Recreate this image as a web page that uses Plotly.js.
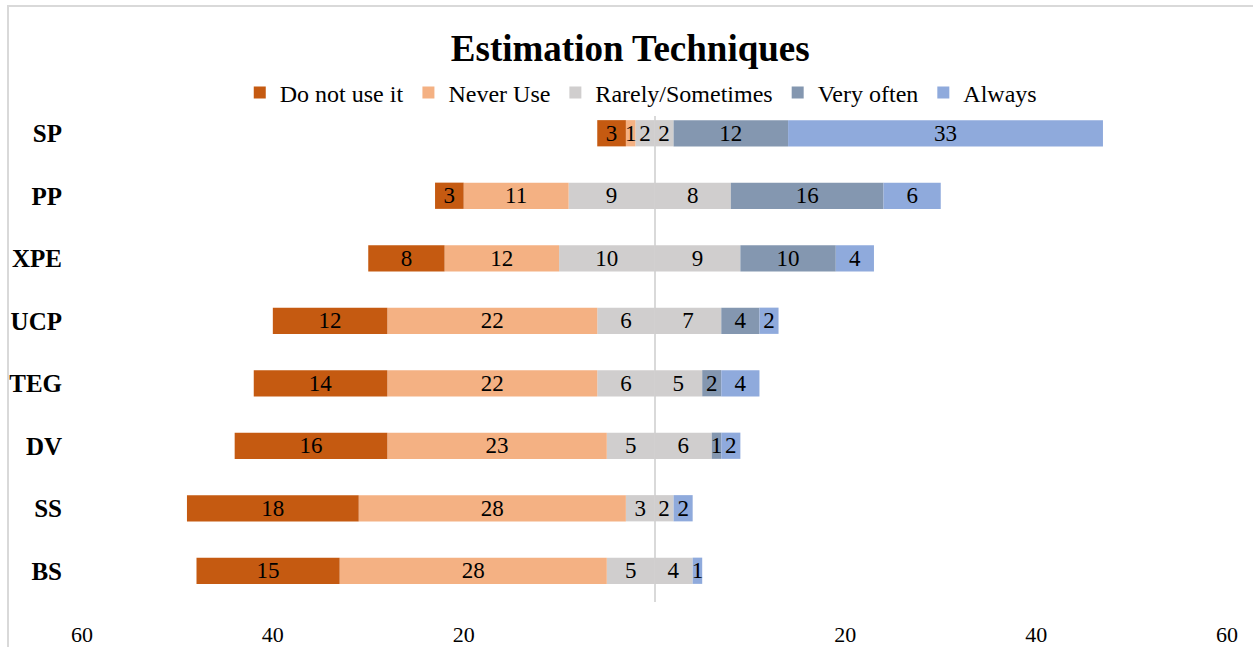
<!DOCTYPE html>
<html>
<head>
<meta charset="utf-8">
<script src="https://cdn.plot.ly/plotly-3.0.1.min.js"></script>
<style>
  html, body { margin: 0; padding: 0; background: #fff; }
  #wrap { position: relative; width: 1253px; height: 647px; overflow: hidden; }
  #chart { position: absolute; left: 0; top: 0; width: 1253px; height: 647px; }
  #frame { position: absolute; left: 7px; top: 5px; width: 1400px; height: 800px;
           border: 2px solid #d9d9d9; pointer-events: none; }
</style>
</head>
<body>
<div id="wrap">
  <div id="chart"></div>
  <div id="frame"></div>
</div>
<script>
// Estimation techniques, listed top to bottom
const techniques = ['SP', 'PP', 'XPE', 'UCP', 'TEG', 'DV', 'SS', 'BS'];

// Responses per technique (left of the zero line)
const doNotUse   = [3, 3, 8, 12, 14, 16, 18, 15];
const neverUse   = [1, 11, 12, 22, 22, 23, 28, 28];
const rarely     = [2, 9, 10, 6, 6, 5, 3, 5];
// Responses per technique (right of the zero line)
const sometimes  = [2, 8, 9, 7, 5, 6, 2, 4];
const veryOften  = [12, 16, 10, 4, 2, 1, 0, 0];
const always     = [33, 6, 4, 2, 4, 2, 2, 1];

// Axis ticks: magnitudes on both sides of zero
const tickVals  = [-60, -40, -20, 20, 40, 60];
const tickTexts = ['60', '40', '20', '20', '40', '60'];

const colors = {
  doNotUse: '#C55A11',
  never: '#F4B183',
  rarely: '#D0CECE',
  veryOften: '#8497B0',
  always: '#8FAADC'
};

const serif = 'Liberation Serif, Times New Roman, serif';

function labels(vals) { return vals.map(v => v === 0 ? '' : String(v)); }

function barTrace(name, vals, color, sign, rank, showLegend) {
  return {
    type: 'bar',
    orientation: 'h',
    name: name,
    y: techniques,
    x: vals.map(v => sign * v),
    text: labels(vals),
    textposition: 'inside',
    insidetextanchor: 'middle',
    textangle: 0,
    constraintext: 'none',
    textfont: { family: serif, size: 23, color: '#000' },
    marker: { color: color, line: { width: 0 } },
    legendrank: rank,
    showlegend: showLegend,
    hoverinfo: 'name+text'
  };
}

// Negative traces stack outward from zero in trace order
const data = [
  barTrace('Rarely/Sometimes', rarely, colors.rarely, -1, 3, true),
  barTrace('Never Use', neverUse, colors.never, -1, 2, true),
  barTrace('Do not use it', doNotUse, colors.doNotUse, -1, 1, true),
  barTrace('Sometimes', sometimes, colors.rarely, 1, 3, false),
  barTrace('Very often', veryOften, colors.veryOften, 1, 4, true),
  barTrace('Always', always, colors.always, 1, 5, true)
];

const layout = {
  width: 1253,
  height: 647,
  margin: { l: 82, r: 26, t: 102, b: 45 },
  paper_bgcolor: '#fff',
  plot_bgcolor: '#fff',
  barmode: 'relative',
  bargap: 0.58,
  font: { family: serif, color: '#000' },
  title: {
    text: '<b>Estimation Techniques</b>',
    font: { family: serif, size: 37, color: '#000' },
    x: 0.503, xanchor: 'center',
    y: 0.925, yanchor: 'middle'
  },
  legend: {
    orientation: 'h',
    x: 0.488, xanchor: 'center',
    y: 1.018, yanchor: 'middle',
    traceorder: 'normal',
    font: { family: serif, size: 24, color: '#000' },
    itemwidth: 30,
    itemclick: false
  },
  xaxis: {
    range: [-60, 60],
    tickvals: tickVals,
    ticktext: tickTexts,
    showgrid: false,
    zeroline: true,
    zerolinecolor: '#d9d9d9',
    zerolinewidth: 2,
    showline: false,
    ticks: '',
    ticklabelstandoff: 17,
    tickfont: { family: serif, size: 22, color: '#000' },
    fixedrange: true
  },
  yaxis: {
    categoryorder: 'array',
    categoryarray: techniques.slice().reverse(),
    showgrid: false,
    zeroline: false,
    showline: false,
    ticks: '',
    ticklabelstandoff: 19,
    tickfont: { family: serif, size: 25, color: '#000', weight: 'bold' },
    fixedrange: true
  },
  showlegend: true
};

Plotly.newPlot('chart', data, layout, { displayModeBar: false, staticPlot: true });
</script>
</body>
</html>
